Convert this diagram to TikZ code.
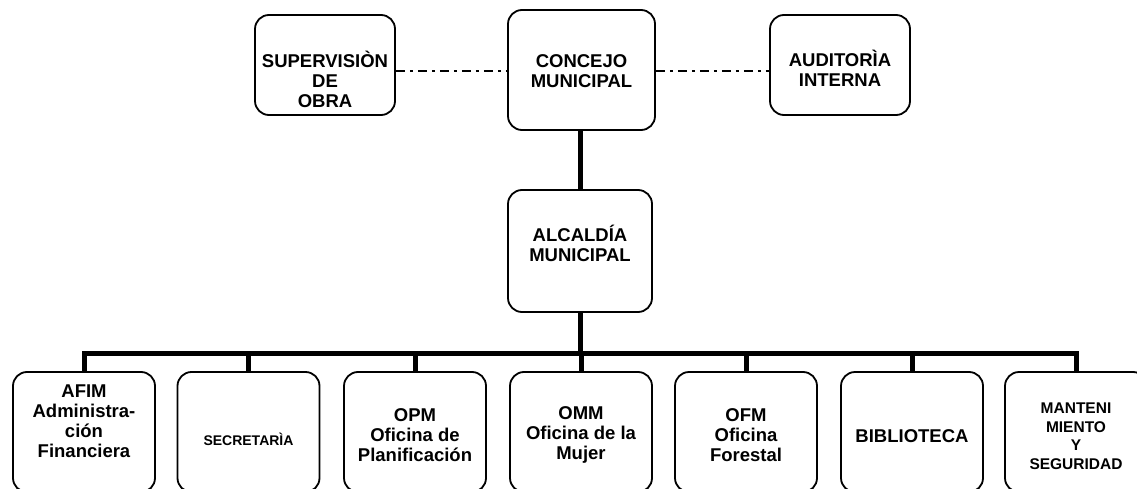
\documentclass[tikz,border=0pt]{standalone}
\usepackage{fontspec}
\setmainfont{Liberation Sans}
\begin{document}
\begin{tikzpicture}[x=1pt,y=-1pt,
  box/.style={draw, line width=1.8pt, rounded corners=14pt, inner sep=0pt, minimum width=142pt, minimum height=120pt},
  topbox/.style={box, minimum width=140pt, minimum height=100pt},
  txt/.style={align=center, inner sep=0pt, font=\bfseries\fontsize{18.5}{20}\selectfont},
  smalltxt/.style={align=center, inner sep=0pt, font=\bfseries\fontsize{14}{16}\selectfont},
  midtxt/.style={align=center, inner sep=0pt, font=\bfseries\fontsize{15.5}{18.5}\selectfont},
  thickline/.style={line width=5pt},
  dotline/.style={line width=1.8pt, dash pattern=on 9pt off 5pt on 3pt off 5pt}]
\useasboundingbox (0,0) rectangle (1137,489);
\clip (0,0) rectangle (1137,489);
% top row
\node[topbox] (sup) at (325,65) {};
\node[box, minimum width=147pt, minimum height=120pt] (con) at (581.5,70) {};
\node[topbox] (aud) at (840,65) {};
\node[txt] (tsup) at (325,79) {SUPERVISIÒN\\DE\\OBRA};
\node[txt] (tcon) at (581.5,71) {CONCEJO\\MUNICIPAL};
\node[txt] (taud) at (840,68) {AUDITORÌA\\INTERNA};
% alcaldia
\node[box, minimum width=144pt, minimum height=122pt] (alc) at (580,251) {};
\node[txt] (talc) at (580,243) {ALCALDÍA\\MUNICIPAL};
% bottom row
\node[box] (b1) at (84,432) {};
\node[box] (b2) at (248.5,432) {};
\node[box] (b3) at (415,432) {};
\node[box] (b4) at (581,432) {};
\node[box] (b5) at (746,432) {};
\node[box] (b6) at (912,432) {};
\node[box] (b7) at (1076,432) {};
\node[txt] (t1) at (84,421) {AFIM\\Administra-\\ción\\Financiera};
\node[smalltxt] (t2) at (248.5,439) {SECRETARÌA};
\node[txt] (t3) at (415,435) {OPM\\Oficina de\\Planificación};
\node[txt] (t4) at (581,435) {OMM\\Oficina de la\\Mujer};
\node[txt] (t5) at (746,435) {OFM\\Oficina\\Forestal};
\node[txt] (t6) at (912,436) {BIBLIOTECA};
\node[midtxt] (t7) at (1076,436) {MANTENI\\MIENTO\\Y\\SEGURIDAD};
% connectors
\draw[dotline] (sup.east |- 0,71) -- (con.west |- 0,71);
\draw[dotline] (con.east |- 0,71) -- (aud.west |- 0,71);
\draw[thickline] (alc.north -| 580,0) -- (con.south -| 580,0);
\coordinate (bus) at (580,353);
\draw[thickline] (alc.south -| 580,0) -- (bus);
\draw[thickline, line join=miter] (b1.north) -- (b1.north |- bus) -- (b7.north |- bus) -- (b7.north);
\foreach \b in {b2,b3,b4,b5,b6}
  \draw[thickline] (\b.north) -- (\b.north |- bus);
\end{tikzpicture}
\end{document}
